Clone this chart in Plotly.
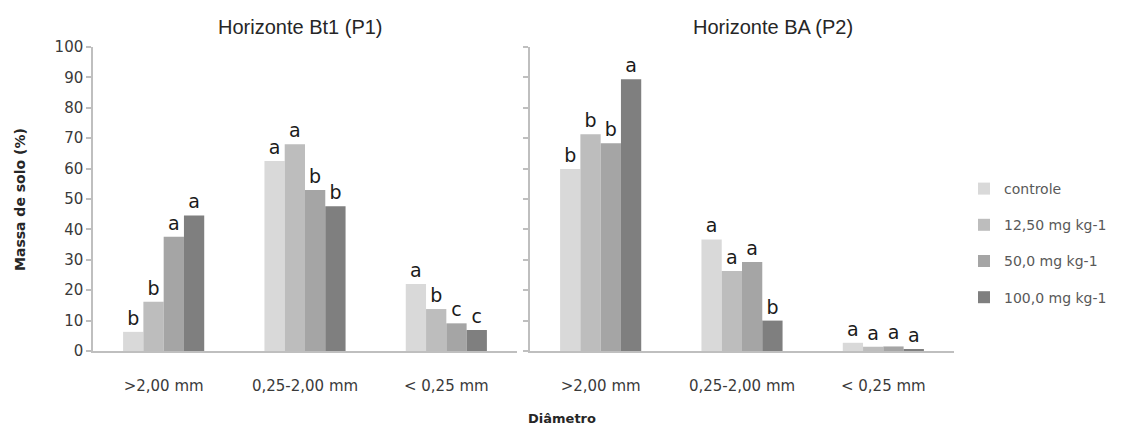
import plotly.graph_objects as go

categories = [">2,00 mm", "0,25-2,00 mm", "< 0,25 mm"]
series_names = ["controle", "12,50 mg kg-1", "50,0 mg kg-1", "100,0 mg kg-1"]

p1_controle = [6.3, 62.5, 22.0]
p1_12_5 = [16.2, 68.0, 13.8]
p1_50 = [37.6, 53.0, 9.1]
p1_100 = [44.6, 47.6, 6.9]

p2_controle = [59.9, 36.7, 2.7]
p2_12_5 = [71.3, 26.3, 1.4]
p2_50 = [68.3, 29.3, 1.5]
p2_100 = [89.4, 10.0, 0.4]

p1_letters_controle = ["b", "a", "a"]
p1_letters_12_5 = ["b", "a", "b"]
p1_letters_50 = ["a", "b", "c"]
p1_letters_100 = ["a", "b", "c"]

p2_letters_controle = ["b", "a", "a"]
p2_letters_12_5 = ["b", "a", "a"]
p2_letters_50 = ["b", "a", "a"]
p2_letters_100 = ["a", "b", "a"]

titles = ["Horizonte Bt1 (P1)", "Horizonte BA (P2)"]
y_title = "Massa de solo (%)"
x_title = "Diâmetro"
y_ticks = list(range(0, 101, 10))

colors = ["#d9d9d9", "#bdbdbd", "#a5a5a5", "#7f7f7f"]

p1 = [p1_controle, p1_12_5, p1_50, p1_100]
p2 = [p2_controle, p2_12_5, p2_50, p2_100]
l1 = [p1_letters_controle, p1_letters_12_5, p1_letters_50, p1_letters_100]
l2 = [p2_letters_controle, p2_letters_12_5, p2_letters_50, p2_letters_100]

W, H = 1124, 427
OFF = 8  # page body margin
FONT = "DejaVu Sans, sans-serif"
FONT_T = "Liberation Sans, Arial, sans-serif"


def px(x):
    return (x - OFF) / W


def py(y):
    return (H - (y - OFF)) / H


fig = go.Figure()
for i, name in enumerate(series_names):
    for panel, (vals, lets) in enumerate([(p1[i], l1[i]), (p2[i], l2[i])]):
        fig.add_trace(go.Bar(
            x=categories, y=vals, name=name,
            marker=dict(color=colors[i], line=dict(width=0)),
            text=lets, textposition="outside",
            textfont=dict(size=19, color="#1a1a1a", family=FONT),
            cliponaxis=False, constraintext="none",
            xaxis="x" if panel == 0 else "x2",
            yaxis="y" if panel == 0 else "y2",
            legendgroup=name, showlegend=(panel == 0),
            hoverinfo="x+y+name",
        ))

axis_common = dict(showline=True, linecolor="#bfbfbf", linewidth=1.5, showgrid=False,
                   zeroline=False, automargin=False)
xcommon = dict(axis_common, ticks="outside", ticklen=20, tickcolor="rgba(0,0,0,0)",
               tickfont=dict(size=15, color="#3a3a3a", family=FONT))
ycommon = dict(axis_common, range=[0, 100], tickvals=y_ticks, ticks="outside",
               ticklen=5, tickcolor="#bfbfbf", tickwidth=1.5, domain=[py(351), py(47)])

fig.update_layout(
    width=W, height=H,
    margin=dict(l=0, r=0, t=0, b=0),
    paper_bgcolor="white", plot_bgcolor="white",
    barmode="group", bargap=0.426, bargroupgap=0,
    font=dict(family=FONT, color="#3a3a3a"),
    xaxis=dict(xcommon, domain=[px(93), px(517)], anchor="y"),
    xaxis2=dict(xcommon, domain=[px(530), px(954)], anchor="y2"),
    yaxis=dict(ycommon, anchor="x",
               tickfont=dict(size=15, color="#3a3a3a", family=FONT)),
    yaxis2=dict(ycommon, anchor="x2", showticklabels=False),
    legend=dict(x=px(964), y=py(173), xanchor="left", yanchor="top",
                font=dict(size=14, color="#595959", family=FONT),
                tracegroupgap=15, itemwidth=30, bgcolor="rgba(0,0,0,0)"),
    annotations=[
        dict(text=titles[0], x=px(300), y=py(27), xref="paper", yref="paper",
             xanchor="center", yanchor="middle",
             showarrow=False, font=dict(size=20, color="#262626", family=FONT_T)),
        dict(text=titles[1], x=px(773), y=py(27), xref="paper", yref="paper",
             xanchor="center", yanchor="middle",
             showarrow=False, font=dict(size=20, color="#262626", family=FONT_T)),
        dict(text="<b>" + x_title + "</b>", x=px(562), y=py(418), xref="paper",
             yref="paper", showarrow=False, xanchor="center", yanchor="middle",
             font=dict(size=13, color="#262626", family=FONT)),
        dict(text="<b>" + y_title + "</b>", x=px(20), y=py(200), xref="paper",
             yref="paper", showarrow=False, textangle=-90,
             xanchor="center", yanchor="middle",
             font=dict(size=14, color="#262626", family=FONT)),
    ],
)

fig.write_html("out.html")
